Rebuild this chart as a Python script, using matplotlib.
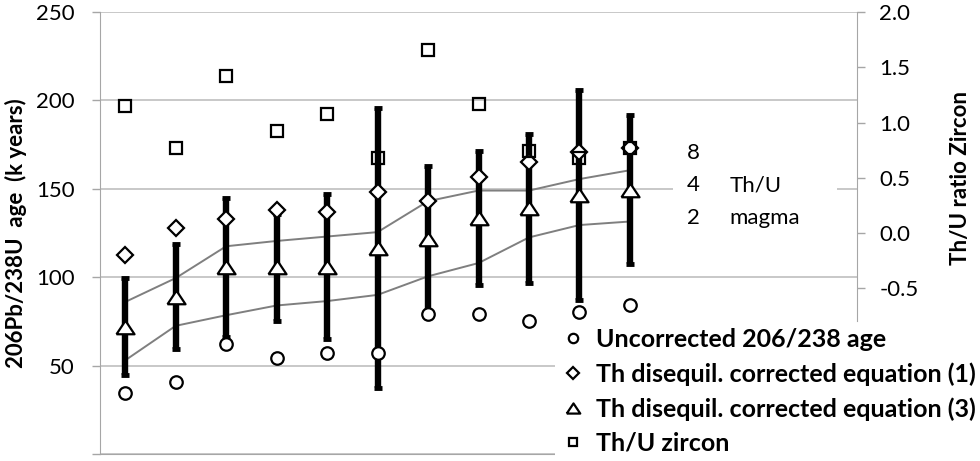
import matplotlib
matplotlib.use("Agg")
import matplotlib.pyplot as plt
from matplotlib.patches import Rectangle

plt.rcParams['font.family'] = ['Lato', 'DejaVu Sans']

# sample slots 1..11 (the category axis has 15 slots, the last 4 empty)
samples = list(range(1, 12))

# 206Pb/238U ages (k years), left axis
age_uncorrected = [34.5, 40.5, 62, 54.5, 57, 57, 79, 79, 75.5, 80.5, 84.5]
age_eq1 = [112.5, 128, 133, 138, 137, 148, 143, 156.5, 165, 171, 173]
age_eq3 = [72, 89, 105.5, 105.5, 106, 116.5, 121.5, 133.5, 139, 146.5, 149.5]
err_eq3 = [27.5, 29.5, 39.5, 30, 41, 79, 41.5, 38, 42, 59.5, 42]

# Th/U ratio of zircon, right axis
thu_zircon = [1.15, 0.77, 1.42, 0.92, 1.08, 0.68, 1.66, 1.17, 0.74, 0.68, 0.77]

# corrected ages for a magma Th/U of 4 and 2
magma_thu4 = [86, 99.5, 117.5, 120.5, 123, 125.5, 143, 149, 149, 155.5, 160.5]
magma_thu2 = [53, 72.5, 78.5, 84, 86.5, 90, 100.5, 108, 122.5, 129.5, 131.5]

left_ticks = [0, 50, 100, 150, 200, 250]
left_labels = ['', '50', '100', '150', '200', '250']
right_ticks = [-0.5, 0.0, 0.5, 1.0, 1.5, 2.0]
right_labels = ['-0.5', '0.0', '0.5', '1.0', '1.5', '2.0']

legend_labels = ['Uncorrected 206/238 age',
                 'Th disequil. corrected equation (1)',
                 'Th disequil. corrected equation (3)',
                 'Th/U zircon']

axis_grey = '#a6a6a6'
# wide triangle like the excel marker
tri_marker = [(-1, -0.75), (1, -0.75), (0, 0.75), (-1, -0.75)]

fig = plt.figure(figsize=(9.8, 4.61), dpi=100)
ax = fig.add_axes([100 / 980, 7 / 461, 757 / 980, 442 / 461])
ax2 = ax.twinx()

ax.set_xlim(0.5, 15.5)
ax.set_ylim(0, 250)
ax2.set_ylim(-2, 2)

# magma Th/U lines
ax.plot(samples, magma_thu4, color='#7f7f7f', lw=1.4, zorder=1.8)
ax.plot(samples, magma_thu2, color='#7f7f7f', lw=1.4, zorder=1.8)

# error bars of equation (3)
ax.errorbar(samples, age_eq3, yerr=err_eq3, fmt='none', ecolor='black',
            elinewidth=4.6, capsize=3, capthick=3.5, zorder=2)

mk = dict(linestyle='none', markerfacecolor='white', markeredgecolor='black',
          markeredgewidth=1.6, zorder=3)
h_circ, = ax.plot(samples, age_uncorrected, marker='o', markersize=9, **mk)
h_diam, = ax.plot(samples, age_eq1, marker='D', markersize=8.5, **mk)
h_tri, = ax.plot(samples, age_eq3, marker=tri_marker, markersize=13, **mk)
h_sq, = ax2.plot(samples, thu_zircon, marker='s', markersize=8.3, linestyle='none',
                 markerfacecolor='none', markeredgecolor='black', markeredgewidth=1.6)

# grid and axes
ax.set_yticks(left_ticks)
ax.set_yticklabels(left_labels)
ax.yaxis.grid(True, color='#b9b9b9', lw=1.1)
ax.set_axisbelow(True)
ax2.set_yticks(right_ticks)
ax2.set_yticklabels(right_labels)

for s in ['top', 'right']:
    ax.spines[s].set_visible(False)
for s in ['top', 'left', 'bottom']:
    ax2.spines[s].set_visible(False)
ax.spines['left'].set_color(axis_grey)
ax.spines['bottom'].set_color(axis_grey)
ax2.spines['right'].set_color(axis_grey)
ax2.spines['right'].set_bounds(-0.8, 2.0)

ax.tick_params(axis='x', bottom=False, labelbottom=False)
ax.tick_params(axis='y', length=6, width=1, color=axis_grey, pad=12, labelsize=16)
ax2.tick_params(axis='y', length=6, width=1, color=axis_grey, pad=10, labelsize=16)

# Th/U magma annotation on a white patch
ax.add_patch(Rectangle((0.757, 0.484), 0.2166, 0.238, transform=ax.transAxes,
                       facecolor='white', edgecolor='none', zorder=3))
ax.text(12.13, 170.2, '8', va='center', fontsize=16, zorder=4)
ax.text(12.13, 152.1, '4', va='center', fontsize=16, zorder=4)
ax.text(12.13, 133.5, '2', va='center', fontsize=16, zorder=4)
ax.text(12.98, 152.1, 'Th/U', va='center', fontsize=16, zorder=4)
ax.text(12.98, 133.5, 'magma', va='center', fontsize=16, zorder=4)

fig.text(16 / 980, 1 - 233 / 461, '206Pb/238U  age  (k years)', rotation=90,
         ha='center', va='center', fontsize=16, fontweight='bold')
fig.text(960 / 980, 1 - 178 / 461, 'Th/U ratio Zircon', rotation=90,
         ha='center', va='center', fontsize=16, fontweight='bold')

leg = ax2.legend([h_circ, h_diam, h_tri, h_sq], legend_labels, loc='upper left',
                 bbox_to_anchor=(555 / 980, 1 - 323 / 461), bbox_transform=fig.transFigure,
                 frameon=True, facecolor='white', edgecolor='none', framealpha=1,
                 fancybox=False, borderpad=0.2, borderaxespad=0, handlelength=1.0,
                 handletextpad=0.45, labelspacing=0.45, markerscale=0.75,
                 prop={'weight': 'bold', 'size': 18})

fig.savefig('out.png', dpi=100)
